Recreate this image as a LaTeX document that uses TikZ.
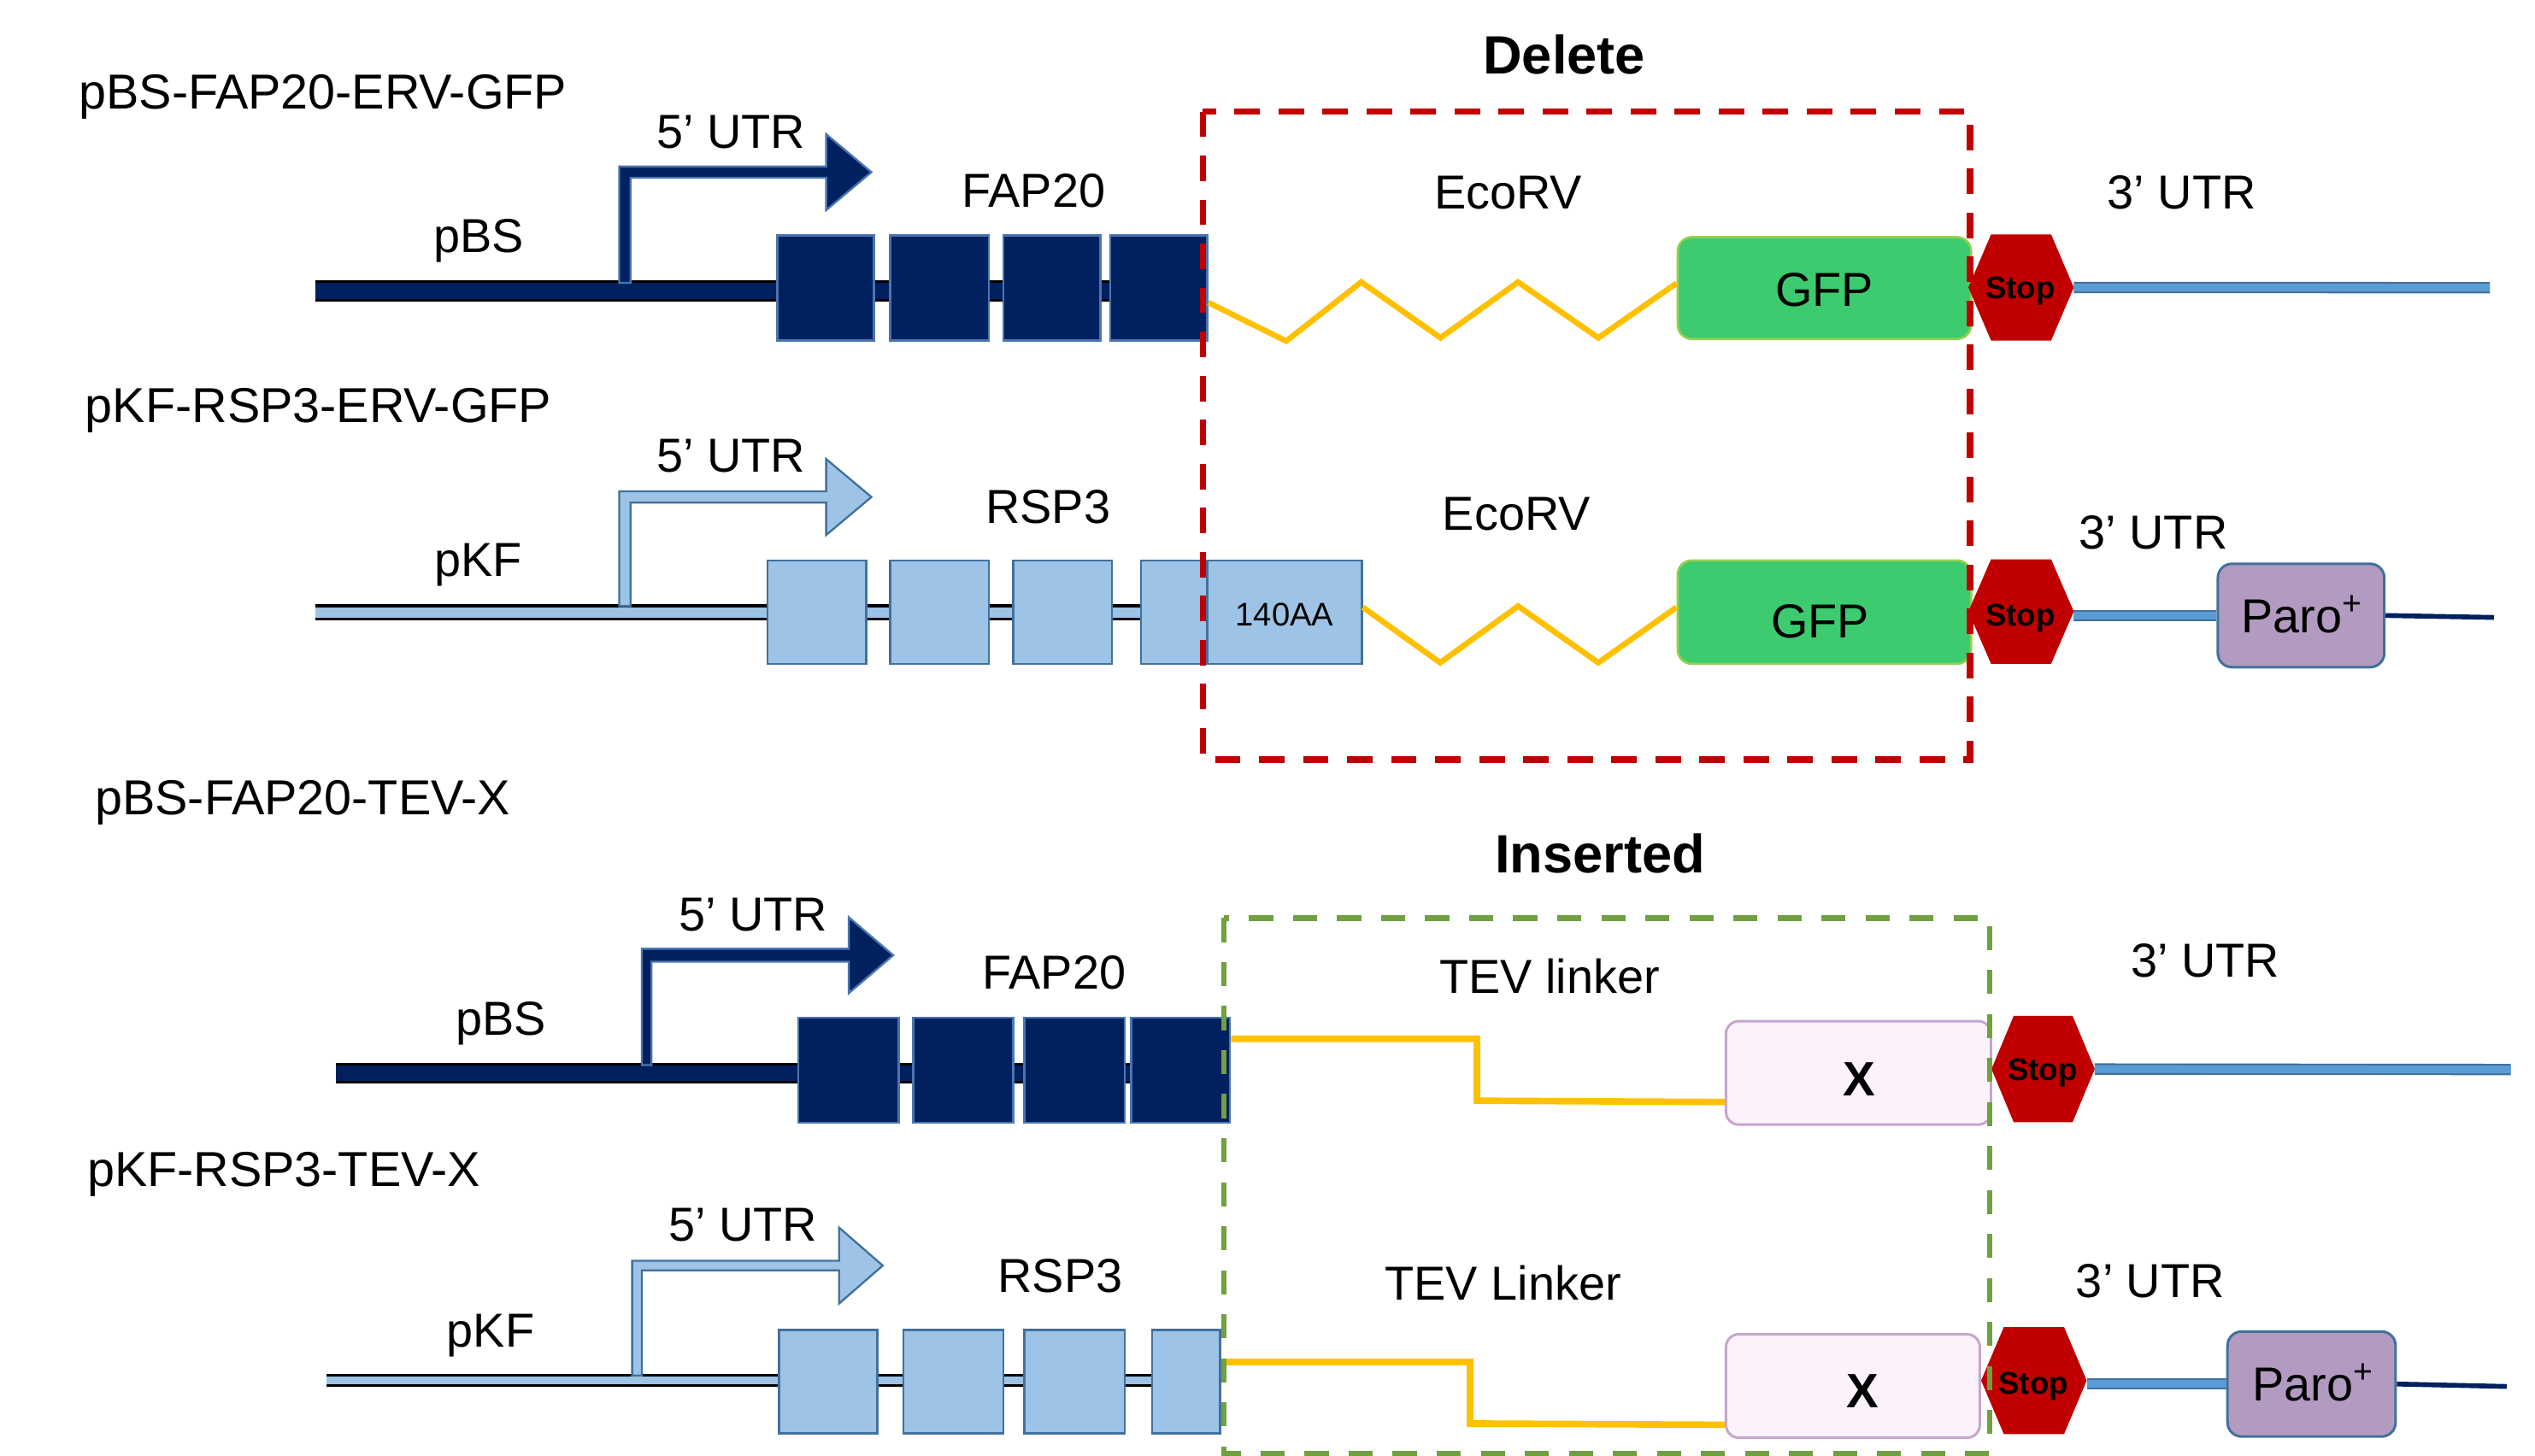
\documentclass[tikz,border=0pt]{standalone}
\usepackage{fontspec}
\setmainfont{Liberation Sans}
\usetikzlibrary{calc}
\definecolor{navy}{HTML}{002060}
\definecolor{navyedge}{HTML}{4A76B0}
\definecolor{lblue}{HTML}{9DC3E6}
\definecolor{lbedge}{HTML}{41719C}
\definecolor{mblue}{HTML}{5B9BD5}
\definecolor{gold}{HTML}{FFC000}
\definecolor{gfpgreen}{HTML}{3CCB6E}
\definecolor{gfpedge}{HTML}{92D050}
\definecolor{stopred}{HTML}{C00000}
\definecolor{parofill}{HTML}{B29AC0}
\definecolor{xfill}{HTML}{FCF2FB}
\definecolor{xedge}{HTML}{C6A5CE}
\definecolor{delred}{HTML}{C00000}
\definecolor{insgreen}{HTML}{70A040}
\newcommand{\gbox}[7]{\node[#2, anchor=north west, inner sep=0pt,
  minimum width={(#5-#3)*0.02cm}, minimum height={(#6-#4)*0.02cm}] (#1) at (#3,#4) {#7};}
\newcommand{\stopsign}[6]{%
  \node[anchor=north west, inner sep=0pt, minimum width={(#3-#2)*0.02cm},
    minimum height={(#5-#4)*0.02cm}] (#1) at (#2,#4) {};
  \fill[stopred] (#1.west) -- ($(#1.north west)!0.215!(#1.north east)$)
    -- ($(#1.north west)!0.785!(#1.north east)$) -- (#1.east)
    -- ($(#1.south west)!0.785!(#1.south east)$)
    -- ($(#1.south west)!0.215!(#1.south east)$) -- cycle;
  \node[stoptxt] (#1t) at ({(#2+#3)/2},#6) {Stop};}
\newcommand{\promoter}[9]{%
  \filldraw[#1] (#2,#4) -- (#2,#5) -- (#7,#5) -- (#7,{(#5+#6)/2-#9})
   -- (#8,{(#5+#6)/2}) -- (#7,{(#5+#6)/2+#9}) -- (#7,#6) -- (#3,#6) -- (#3,#4) -- cycle;}
\tikzset{
  lab/.style={font=\fontsize{16.8}{20}\selectfont, inner sep=0pt, anchor=base},
  labw/.style={font=\fontsize{17.3}{20}\selectfont, inner sep=0pt, anchor=base west},
  head/.style={font=\fontsize{19}{22}\selectfont\bfseries, inner sep=0pt, anchor=base},
  stoptxt/.style={font=\fontsize{11}{13}\selectfont\bfseries, inner sep=0pt, anchor=base},
  navybox/.style={fill=navy, draw=navyedge, line width=0.8pt},
  lightbox/.style={fill=lblue, draw=lbedge, line width=0.8pt},
  gfpbox/.style={fill=gfpgreen, draw=gfpedge, line width=0.8pt, rounded corners=5pt},
  parobox/.style={fill=parofill, draw=lbedge, line width=0.9pt, rounded corners=5pt},
  xbox/.style={fill=xfill, draw=xedge, line width=0.9pt, rounded corners=4.5pt},
  zig/.style={gold, line width=2pt},
  linker/.style={gold, line width=2.3pt},
  utrout/.style={lbedge, line width=4pt},
  utrin/.style={mblue, line width=2.7pt},
  tail/.style={navy, line width=1.7pt},
  darkprom/.style={fill=navy, draw=navyedge, line width=0.7pt},
  lightprom/.style={fill=lblue, draw=lbedge, line width=0.7pt},
  delbox/.style={delred, line width=2.2pt, dash pattern=on 9pt off 6.5pt},
  insbox/.style={insgreen, line width=2pt, dash pattern=on 8.5pt off 7pt},
}
\begin{document}
\begin{tikzpicture}[x=0.02cm,y=-0.02cm]
\useasboundingbox (0,0) rectangle (1568,900.3);
% ---------------- Row 1 ----------------
\coordinate (r1s) at (195,180);
\draw[black, line width=7.4pt] (r1s) -- (730,180);
\draw[navy, line width=5.6pt] (r1s) -- (730,180);
\gbox{f1a}{navybox}{480}{145}{540}{210}{}
\gbox{f1b}{navybox}{550}{145}{611}{210}{}
\gbox{f1c}{navybox}{620}{145}{680}{210}{}
\gbox{f1d}{navybox}{686}{145}{746}{210}{}
\promoter{darkprom}{383}{390}{175}{103}{110}{511}{539}{23.5}
\gbox{gfp1}{gfpbox}{1037}{146}{1218.5}{209}{}
\draw[zig] ($(f1d.east)+(0,9)$) -- (795.6,211) -- (842,174.5) -- (891,209)
  -- (939,174.5) -- (988.6,209) -- ($(gfp1.west)+(0,-3)$);
\stopsign{s1}{1217.5}{1282}{145}{210}{185}
\coordinate (e1) at (1540,178);
\draw[utrout] (s1.east) -- (e1);
\draw[utrin] (s1.east) -- (e1);
% ---------------- Row 2 ----------------
\coordinate (r2s) at (195,379);
\draw[black, line width=5.7pt] (r2s) -- (746,379);
\draw[lblue, line width=3.7pt] (r2s) -- (746,379);
\gbox{k2a}{lightbox}{474}{346}{535}{410}{}
\gbox{k2b}{lightbox}{550}{346}{611}{410}{}
\gbox{k2c}{lightbox}{626}{346}{687}{410}{}
\gbox{k2d}{lightbox}{705}{346}{746}{410}{}
\gbox{a140}{lightbox}{746}{346}{841.6}{410}{}
\promoter{lightprom}{383}{390}{375}{304}{311}{511}{539}{23.5}
\gbox{gfp2}{gfpbox}{1037}{346}{1218.5}{410}{}
\draw[zig] ($(a140.east)+(0,-3)$) -- (890.8,410) -- (939,375) -- (988.6,410)
  -- ($(gfp2.west)+(0,-3)$);
\stopsign{s2}{1217.5}{1282}{346}{410}{387}
\gbox{paro2}{parobox}{1371}{348}{1474}{412}{}
\draw[utrout] (s2.east |- paro2.west) -- (paro2.west);
\draw[utrin] (s2.east |- paro2.west) -- (paro2.west);
\coordinate (e2) at (1542.6,382);
\draw[tail] (paro2.east) -- (e2);
% ---------------- Row 3 ----------------
\coordinate (r3s) at (208,664);
\draw[black, line width=7pt] (r3s) -- (730,664);
\draw[navy, line width=5.3pt] (r3s) -- (730,664);
\gbox{f3a}{navybox}{493}{629}{555}{694}{}
\gbox{f3b}{navybox}{564}{629}{626}{694}{}
\gbox{f3c}{navybox}{633}{629}{695}{694}{}
\gbox{f3d}{navybox}{699}{629}{760}{694}{}
\promoter{darkprom}{397}{403}{659}{587}{595}{525}{552.5}{23.5}
\gbox{x3}{xbox}{1066.8}{631}{1230.7}{695}{}
\draw[linker] ($(f3d.east)+(0,-19.5)$) -| (913.5,681) -- ($(x3.west)+(0,18)$);
\stopsign{s3}{1231.8}{1295}{628.5}{693.6}{668.5}
\coordinate (e3) at (1553,661.7);
\draw[utrout] (s3.east) -- (e3);
\draw[utrin] (s3.east) -- (e3);
% ---------------- Row 4 ----------------
\coordinate (r4s) at (202,854);
\draw[black, line width=4.4pt] (r4s) -- (740,854);
\draw[lblue, line width=2.8pt] (r4s) -- (740,854);
\gbox{k4a}{lightbox}{481}{822}{542}{886}{}
\gbox{k4b}{lightbox}{558}{822}{620}{886}{}
\gbox{k4c}{lightbox}{633}{822}{695}{886}{}
\gbox{k4d}{lightbox}{712}{822}{754}{886}{}
\promoter{lightprom}{391}{397}{851}{780}{786}{519}{546}{23.5}
\gbox{x4}{xbox}{1066.8}{824.7}{1223.8}{888.7}{}
\draw[linker] ($(k4d.east)+(0,-12)$) -| (909.3,880.7) -- ($(x4.west)+(0,24)$);
\stopsign{s4}{1225.4}{1290}{821}{886.6}{862.5}
\gbox{paro4}{parobox}{1377}{823}{1481}{888}{}
\draw[utrout] (s4.east |- paro4.west) -- (paro4.west);
\draw[utrin] (s4.east |- paro4.west) -- (paro4.west);
\coordinate (e4) at (1550.5,857.8);
\draw[tail] (paro4.east) -- (e4);
% ---------------- Texts ----------------
\node[labw] (t1) at (48.5,67.3) {pBS-FAP20-ERV-GFP};
\node[lab] (u1) at (452,91.7) {5’ UTR};
\node[lab] (g1) at (639.3,128.1) {FAP20};
\node[lab] (p1) at (296,156.2) {pBS};
\node[lab] (ec1) at (933,129) {EcoRV};
\node[head] (del) at (967.5,45.5) {Delete};
\node[lab] (tu1) at (1349.5,129) {3’ UTR};
\node[lab] (gt1) at (1128.5,189.7) {GFP};
\node[labw] (t2) at (52.5,261.3) {pKF-RSP3-ERV-GFP};
\node[lab] (u2) at (452,292.3) {5’ UTR};
\node[lab] (g2) at (648.3,323.8) {RSP3};
\node[lab] (p2) at (295.7,356.7) {pKF};
\node[lab] (ec2) at (938,327.8) {EcoRV};
\node[lab] (tu2) at (1332,339.9) {3’ UTR};
\node[lab] (gt2) at (1125.8,394.5) {GFP};
\node[lab, font=\fontsize{11.5}{13}\selectfont] (aa) at (794.6,387) {140AA};
\node[lab] (pt2) at (1424,391.5) {Paro\textsuperscript{+}};
\node[labw] (t3) at (58.5,504) {pBS-FAP20-TEV-X};
\node[head] (ins) at (989.6,540) {Inserted};
\node[lab] (u3) at (466,576) {5’ UTR};
\node[lab] (g3) at (652,611.9) {FAP20};
\node[lab] (p3) at (310,640.6) {pBS};
\node[lab] (tv3) at (958.6,614.7) {TEV linker};
\node[lab] (tu3) at (1364,604.7) {3’ UTR};
\node[lab, font=\fontsize{17}{20}\selectfont\bfseries] (xt3) at (1150,678) {X};
\node[labw] (t4) at (53.6,734) {pKF-RSP3-TEV-X};
\node[lab] (u4) at (459.5,768) {5’ UTR};
\node[lab] (g4) at (655.8,799.7) {RSP3};
\node[lab] (p4) at (303.5,833.3) {pKF};
\node[lab] (tv4) at (929.7,804.6) {TEV Linker};
\node[lab] (tu4) at (1330,802.5) {3’ UTR};
\node[lab, font=\fontsize{17}{20}\selectfont\bfseries] (xt4) at (1152,870.7) {X};
\node[lab] (pt4) at (1431,866.5) {Paro\textsuperscript{+}};
% ---------------- Dashed frames ----------------
\draw[delbox] (744,69) rectangle (1218.5,470);
\draw[insbox] (757,568) rectangle (1230.7,899.3);
\end{tikzpicture}
\end{document}
